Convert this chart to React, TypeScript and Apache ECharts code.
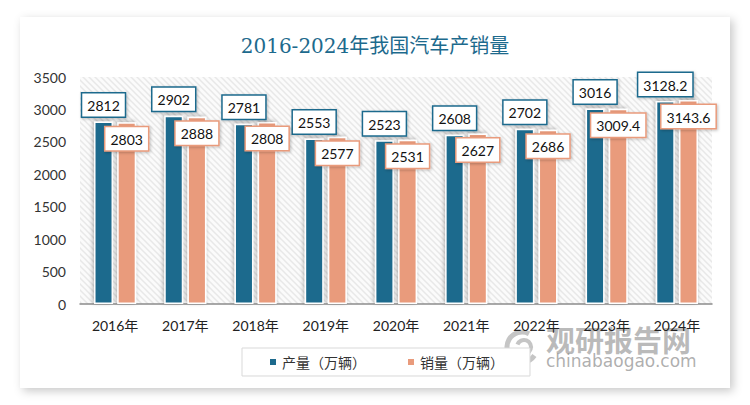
import React, { useEffect, useRef } from "react";
import * as echarts from "echarts";

const title = "2016-2024年我国汽车产销量";
const categories = ["2016年", "2017年", "2018年", "2019年", "2020年", "2021年", "2022年", "2023年", "2024年"];
const production = [2812, 2902, 2781, 2553, 2523, 2608, 2702, 3016, 3128.2];
const sales = [2803, 2888, 2808, 2577, 2531, 2627, 2686, 3009.4, 3143.6];
const seriesNames = ["产量（万辆）", "销量（万辆）"];
const yTicks = { min: 0, max: 3500, interval: 500 };

const BLUE = "#1d6a8d";
const ORANGE = "#e99b7c";
const FONT = "Lato, 'Noto Sans CJK SC', sans-serif";

function makeHatch(): HTMLCanvasElement {
  const c = document.createElement("canvas");
  c.width = 6;
  c.height = 6;
  const ctx = c.getContext("2d")!;
  ctx.fillStyle = "#fbfbfb";
  ctx.fillRect(0, 0, 6, 6);
  ctx.strokeStyle = "#e8e8e8";
  ctx.lineWidth = 1.5;
  ctx.beginPath();
  ctx.moveTo(0, 0);
  ctx.lineTo(6, 6);
  ctx.moveTo(-3, 3);
  ctx.lineTo(3, 9);
  ctx.moveTo(3, -3);
  ctx.lineTo(9, 3);
  ctx.stroke();
  return c;
}

export default function App() {
  const ref = useRef<HTMLDivElement>(null);
  useEffect(() => {
    if (!ref.current) return;
    const chart = echarts.init(ref.current, null, { renderer: "svg" });
    const labelBox = (color: string) => ({
      show: true,
      color: "#111",
      fontFamily: FONT,
      fontSize: 14,
      backgroundColor: "#fff",
      borderColor: color,
      borderWidth: 1.5,
      padding: [5, 5, 4, 5],
      shadowColor: "rgba(0,0,0,0.25)",
      shadowBlur: 3,
      shadowOffsetX: 1,
      shadowOffsetY: 1,
    });
    chart.setOption({
      animation: false,
      backgroundColor: "#fff",
      title: {
        text: title,
        left: "center",
        top: 31,
        textStyle: {
          fontFamily: "'DejaVu Serif', 'Noto Sans CJK SC', serif",
          fontSize: 20,
          fontWeight: "normal",
          color: "#1d6a8d",
        },
      },
      graphic: [
        {
          type: "rect",
          z: -10,
          shape: { x: 20, y: 17, width: 710, height: 371 },
          style: {
            fill: "#fff",
            shadowBlur: 10,
            shadowColor: "rgba(0,0,0,0.22)",
            shadowOffsetX: 3,
            shadowOffsetY: 3,
          },
        },
        {
          type: "arc",
          z: -5,
          shape: { cx: 522, cy: 347, r: 15, startAngle: 0.6, endAngle: 5.2 },
          style: { stroke: "rgba(150,150,150,0.55)", lineWidth: 5, fill: "none" },
        },
        {
          type: "arc",
          z: -5,
          shape: { cx: 524, cy: 347, r: 7, startAngle: 3.5, endAngle: 8.2 },
          style: { stroke: "rgba(150,150,150,0.55)", lineWidth: 4, fill: "none" },
        },
        {
          type: "text",
          z: -5,
          x: 546,
          y: 324,
          style: {
            text: "观研报告网",
            font: "bold 29px 'Noto Sans CJK SC', sans-serif",
            fill: "rgba(140,140,140,0.6)",
          },
        },
        {
          type: "text",
          z: -5,
          x: 546,
          y: 352,
          style: {
            text: "chinabaogao.com",
            font: "17px 'DejaVu Sans', sans-serif",
            fill: "rgba(140,140,140,0.7)",
          },
        },
      ],
      legend: {
        left: 242,
        top: 348,
        data: seriesNames,
        icon: "rect",
        itemWidth: 8,
        itemHeight: 8,
        itemGap: 40,
        padding: [7, 26, 7, 26],
        borderColor: "#d9d9d9",
        borderWidth: 1,
        backgroundColor: "#fff",
        textStyle: { fontFamily: FONT, fontSize: 14, color: "#333" },
      },
      grid: {
        left: 80,
        right: 38,
        top: 77,
        bottom: 101,
        show: true,
        borderWidth: 0,
        backgroundColor: { image: makeHatch(), repeat: "repeat" },
      },
      xAxis: {
        type: "category",
        data: categories,
        axisLine: { lineStyle: { color: "#8c8c8c", width: 1.5 } },
        axisTick: { show: false },
        axisLabel: { fontFamily: FONT, fontSize: 14, color: "#222", margin: 14 },
      },
      yAxis: {
        type: "value",
        min: yTicks.min,
        max: yTicks.max,
        interval: yTicks.interval,
        axisLine: { show: false },
        axisTick: { show: false },
        splitLine: { show: false },
        axisLabel: {
          fontFamily: FONT,
          fontSize: 14,
          color: "#333",
          margin: 14,
          formatter: (v: number) => String(v),
        },
      },
      series: [
        {
          name: seriesNames[0],
          type: "bar",
          data: production,
          barWidth: 19,
          barGap: "22%",
          itemStyle: {
            color: BLUE,
            borderColor: "#fff",
            borderWidth: 1.5,
            shadowColor: "rgba(0,0,0,0.3)",
            shadowBlur: 4,
            shadowOffsetX: -1,
            shadowOffsetY: -1,
          },
          label: { ...labelBox(BLUE), position: "top", distance: 5 },
        },
        {
          name: seriesNames[1],
          type: "bar",
          data: sales,
          barWidth: 19,
          itemStyle: {
            color: ORANGE,
            borderColor: "#fff",
            borderWidth: 1.5,
            shadowColor: "rgba(0,0,0,0.3)",
            shadowBlur: 4,
            shadowOffsetX: -1,
            shadowOffsetY: -1,
          },
          label: { ...labelBox(ORANGE), position: "insideTop", distance: 5 },
        },
      ],
    });
    return () => chart.dispose();
  }, []);
  return (
    <div
      ref={ref}
      style={{ position: "fixed", left: 0, top: 0, width: 750, height: 405 }}
    />
  );
}
